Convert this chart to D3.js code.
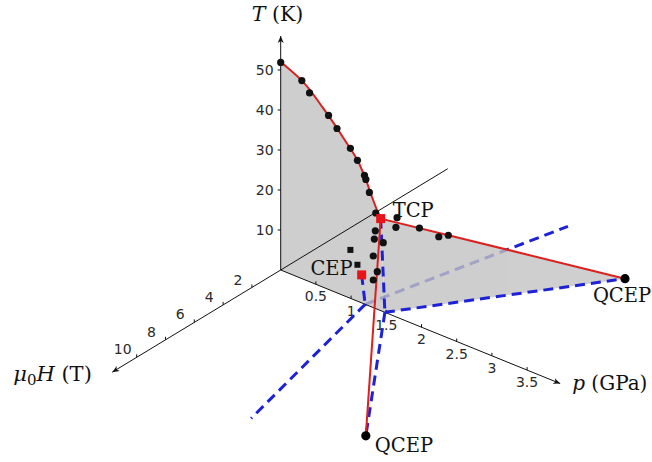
<!DOCTYPE html>
<html><head><meta charset="utf-8">
<script src="https://cdn.jsdelivr.net/npm/d3@7"></script>
<style>body{margin:0;background:#fff} svg{display:block}</style>
</head><body>
<svg id="chart" width="652" height="462"></svg>
<script>
// UGe2 phase diagram drawn in (p, mu0H, T) space with an oblique projection

// axis ticks
const tTicks = [10, 20, 30, 40, 50];
const hTicks = [2, 4, 6, 8, 10];
const pTicks = [0.5, 1, 1.5, 2, 2.5, 3, 3.5];

// Curie line at zero field (fitted curve) from ambient pressure to the TCP
const curieLineP = [0, 0.3, 0.6, 0.9, 1.1, 1.2, 1.3, 1.38, 1.42];
const curieLineT = [52, 49.5, 44.8, 39.2, 35.0, 31.6, 27.4, 24.3, 23.0];

// measured Curie temperatures (H = 0)
const curieDotP = [0, 0.30, 0.41, 0.68, 0.80, 0.99, 1.09, 1.19, 1.21, 1.26, 1.35];
const curieDotT = [51.9, 49.5, 47.2, 43.5, 41.1, 37.5, 35.2, 32.2, 31.3, 28.4, 23.9];

// points near the first-order line below the TCP (H = 0)
const foDotP = [1.344, 1.33, 1.457, 1.315, 1.372, 1.315];
const foDotT = [19.4, 17.25, 17.25, 12.9, 9.4, 6.9];

// points along the wing (negative field side)
const wingDotP = [1.53, 1.52, 1.68, 1.81, 1.87];
const wingDotH = [-0.6, -0.57, -1.42, -2.13, -2.5];
const wingDotT = [22.7, 20.3, 19.4, 16.6, 16.6];

// FM1-FM2 transition temperatures (H = 0)
const txDotP = [0.99, 1.09];
const txDotT = [12.1, 9.1];

// critical points
const tcpPoint = [1.42, 0, 23];
const cepPoint = [1.15, 0, 7];
const qcepP = 3.05;
const qcepH = [9, -9];
const pcFirstOrder = 1.48;   // first-order line reaches T = 0
const pxFM = 1.2;            // FM1-FM2 line reaches T = 0
const fmWingP = 1.83;        // FM1-FM2 wing ends at T = 0
const fmWingH = [11, -11];

// axis extents
const tMax = 58.5, hMin = -11.6, hMax = 11.7, pMax = 3.97;

// projection built from linear scales
const origin = [280.7, 270];
const pX = d3.scaleLinear().domain([0, 1]).range([0, 70.4]);
const pY = d3.scaleLinear().domain([0, 1]).range([0, 28.6]);
const hX = d3.scaleLinear().domain([0, 1]).range([0, -14.4]);
const hY = d3.scaleLinear().domain([0, 1]).range([0, 8.73]);
const tY = d3.scaleLinear().domain([0, 10]).range([0, -40]);
const proj = ([p, h, t]) => [origin[0] + pX(p) + hX(h), origin[1] + pY(p) + hY(h) + tY(t)];

const svg = d3.select("#chart");
const line = d3.line();
const curve = d3.line().curve(d3.curveMonotoneY);

const BLUE = "#1e22d6", RED = "#dc1f1f", GRAY = "#c3c3c3";
const serif = "'DejaVu Serif', serif";
const sans = "'DejaVu Sans', sans-serif";

// arrow marker
svg.append("defs").append("marker")
  .attr("id", "arr").attr("viewBox", "-8 -4 9 8")
  .attr("refX", 0).attr("refY", 0)
  .attr("markerWidth", 9).attr("markerHeight", 8)
  .attr("markerUnits", "userSpaceOnUse").attr("orient", "auto")
  .append("path").attr("d", "M-7,-3 L0,0 L-7,3 L-5,0 Z").attr("fill", "#111");

const dash = (a, b, color) => svg.append("path")
  .attr("d", line([proj(a), proj(b)]))
  .attr("fill", "none").attr("stroke", color || BLUE)
  .attr("stroke-width", 3).attr("stroke-dasharray", "10,6");

// FM1-FM2 wing on the negative-field side (seen through the gray sheets)
dash([pxFM, 0, 0], [fmWingP, fmWingH[1], 0]);

// gray sheets: ferromagnetic region at H = 0 and the negative-field wing
const curvePts = curieLineP.map((p, i) => [p, 0, curieLineT[i]]);
const sheet = svg.append("g").attr("opacity", 0.8);
sheet.append("path")
  .attr("d", line([[0, 0, 0], ...curvePts, tcpPoint, [pcFirstOrder, 0, 0]].map(proj)) + "Z")
  .attr("fill", GRAY);
sheet.append("path")
  .attr("d", line([tcpPoint, [qcepP, qcepH[1], 0], [pcFirstOrder, 0, 0]].map(proj)) + "Z")
  .attr("fill", GRAY);

// axes
const axis = svg.append("g").attr("stroke", "#111").attr("stroke-width", 1).attr("fill", "none");
axis.append("path").attr("d", line([proj([0, 0, 0]), proj([0, 0, tMax])])).attr("marker-end", "url(#arr)");
axis.append("path").attr("d", line([proj([0, hMin, 0]), proj([0, hMax, 0])])).attr("marker-end", "url(#arr)");
axis.append("path").attr("d", line([proj([0, 0, 0]), proj([pMax, 0, 0])])).attr("marker-end", "url(#arr)");

tTicks.forEach(t => {
  const [x, y] = proj([0, 0, t]);
  axis.append("path").attr("d", `M${x},${y}H${x - 3}`);
  svg.append("text").attr("x", x - 7).attr("y", y).attr("dy", "0.36em")
    .attr("text-anchor", "end").attr("font-family", sans).attr("font-size", 14)
    .attr("fill", "#2a2a2a").text(t);
});
hTicks.forEach(h => {
  const [x, y] = proj([0, h, 0]);
  axis.append("path").attr("d", `M${x},${y}V${y - 3}`);
  svg.append("text").attr("x", x - 14).attr("y", y - 8).attr("dy", "0.36em")
    .attr("text-anchor", "middle").attr("font-family", sans).attr("font-size", 14)
    .attr("fill", "#2a2a2a").text(h);
});
pTicks.forEach(p => {
  const [x, y] = proj([p, 0, 0]);
  axis.append("path").attr("d", `M${x},${y}V${y - 3}`);
  svg.append("text").attr("x", x).attr("y", y + 12).attr("dy", "0.36em")
    .attr("text-anchor", "middle").attr("font-family", sans).attr("font-size", 14)
    .attr("fill", "#2a2a2a").text(p);
});

// axis titles
const tTop = proj([0, 0, tMax]);
svg.append("text").attr("x", tTop[0] - 29).attr("y", tTop[1] - 15)
  .attr("font-family", serif).attr("font-size", 20.5).attr("fill", "#111")
  .call(s => { s.append("tspan").attr("font-style", "italic").text("T"); s.append("tspan").text(" (K)"); });
const hEnd = proj([0, hMax, 0]);
svg.append("text").attr("x", hEnd[0] - 99).attr("y", hEnd[1] + 9)
  .attr("font-family", serif).attr("font-size", 21).attr("fill", "#111")
  .call(s => {
    s.append("tspan").attr("font-style", "italic").text("μ");
    s.append("tspan").attr("font-size", 15).attr("dy", 4).text("0");
    s.append("tspan").attr("font-style", "italic").attr("dy", -4).text("H");
    s.append("tspan").text(" (T)");
  });
const pEnd = proj([pMax, 0, 0]);
svg.append("text").attr("x", pEnd[0] + 12).attr("y", pEnd[1] + 6)
  .attr("font-family", serif).attr("font-size", 20).attr("fill", "#111")
  .call(s => { s.append("tspan").attr("font-style", "italic").text("p"); s.append("tspan").text(" (GPa)"); });

// dashed transition lines
dash(tcpPoint, [pcFirstOrder, 0, 0]);
qcepH.forEach(h => dash([pcFirstOrder, 0, 0], [qcepP, h, 0]));
dash(cepPoint, [pxFM, 0, 0]);
dash([pxFM, 0, 0], [fmWingP, fmWingH[0], 0]);

// red transition lines
const redStyle = s => s.attr("fill", "none").attr("stroke", RED).attr("stroke-width", 2);
svg.append("path").attr("d", curve(curvePts.map(proj))).call(redStyle);
qcepH.forEach(h => svg.append("path").attr("d", line([tcpPoint, [qcepP, h, 0]].map(proj))).call(redStyle));

// measured points
const dots = [
  ...curieDotP.map((p, i) => [p, 0, curieDotT[i]]),
  ...foDotP.map((p, i) => [p, 0, foDotT[i]]),
  ...wingDotP.map((p, i) => [p, wingDotH[i], wingDotT[i]])
];
svg.append("g").selectAll("circle").data(dots).join("circle")
  .attr("cx", d => proj(d)[0]).attr("cy", d => proj(d)[1]).attr("r", 3.6).attr("fill", "#111");

svg.append("g").selectAll("rect").data(txDotP.map((p, i) => [p, 0, txDotT[i]])).join("rect")
  .attr("x", d => proj(d)[0] - 3).attr("y", d => proj(d)[1] - 3)
  .attr("width", 6).attr("height", 6).attr("fill", "#111");

// critical points
[tcpPoint, cepPoint].forEach(d => {
  const [x, y] = proj(d);
  svg.append("rect").attr("x", x - 4.5).attr("y", y - 4.5).attr("width", 9).attr("height", 9).attr("fill", "#e8141a");
});
qcepH.forEach(h => {
  const [x, y] = proj([qcepP, h, 0]);
  svg.append("circle").attr("cx", x).attr("cy", y).attr("r", 4.6).attr("fill", "#000");
});

// point labels
const label = (pt, dx, dy, anchor, txt) => {
  const [x, y] = proj(pt);
  svg.append("text").attr("x", x + dx).attr("y", y + dy).attr("text-anchor", anchor)
    .attr("font-family", serif).attr("font-size", 19.5).attr("fill", "#111").text(txt);
};
label(tcpPoint, 12, -2, "start", "TCP");
label(cepPoint, -9, 0, "end", "CEP");
label([qcepP, qcepH[1], 0], -3, 23, "middle", "QCEP");
label([qcepP, qcepH[0], 0], 9, 16, "start", "QCEP");
</script>
</body></html>
